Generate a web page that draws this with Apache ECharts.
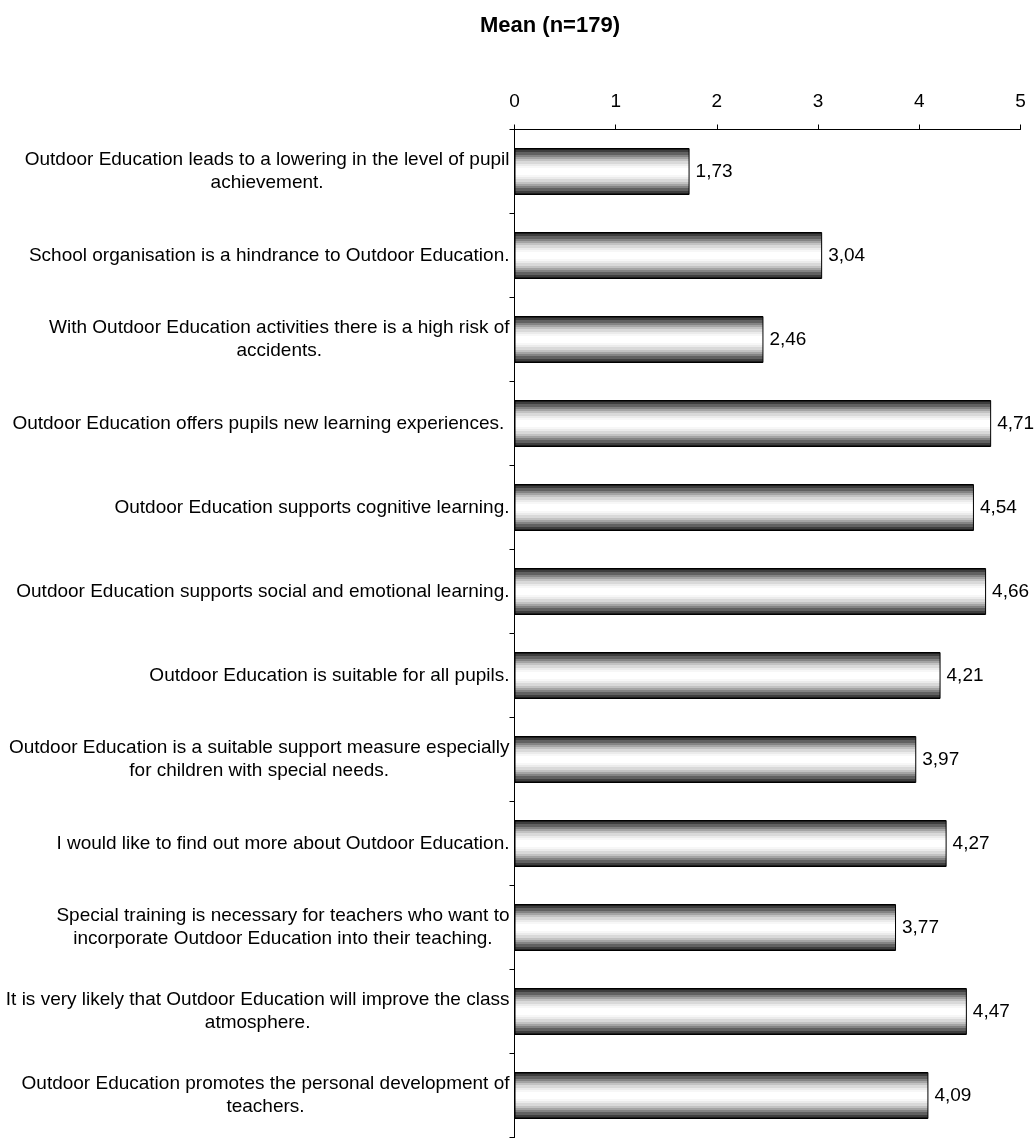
<!DOCTYPE html>
<html>
<head>
<meta charset="utf-8">
<script src="https://cdn.jsdelivr.net/npm/echarts@6/dist/echarts.min.js"></script>
<style>
html,body{margin:0;padding:0;background:#fff;}
#chart{width:1035px;height:1138px;}
</style>
</head>
<body>
<div id="chart"></div>
<script>
const categories = [
  "Outdoor Education leads to a lowering in the level of pupil\nachievement.",
  "School organisation is a hindrance to Outdoor Education.",
  "With Outdoor Education activities there is a high risk of\naccidents.",
  "Outdoor Education offers pupils new learning experiences. ",
  "Outdoor Education supports cognitive learning.",
  "Outdoor Education supports social and emotional learning.",
  "Outdoor Education is suitable for all pupils.",
  "Outdoor Education is a suitable support measure especially\nfor children with special needs.",
  "I would like to find out more about Outdoor Education.",
  "Special training is necessary for teachers who want to\nincorporate Outdoor Education into their teaching.",
  "It is very likely that Outdoor Education will improve the class\natmosphere.",
  "Outdoor Education promotes the personal development of\nteachers."
];
const meanValues = [1.73, 3.04, 2.46, 4.71, 4.54, 4.66, 4.21, 3.97, 4.27, 3.77, 4.47, 4.09];
const titleText = "Mean (n=179)";

const FONT = "'Liberation Sans', Arial, sans-serif";
const FS = 19;

const stripes = ['#1e1e1e','#3e3e3e','#616161','#848484','#a4a4a4','#c2c2c2','#d9d9d9','#ebebeb','#f7f7f7','#ffffff','#ffffff'];
function stripeGradient() {
  const seq = stripes.concat(stripes.slice(0, -1).reverse());
  const n = seq.length;
  const stops = [];
  for (let i = 0; i < n; i++) {
    stops.push({offset: i / n, color: seq[i]});
    stops.push({offset: (i + 1) / n, color: seq[i]});
  }
  return new echarts.graphic.LinearGradient(0, 0, 0, 1, stops);
}

const chart = echarts.init(document.getElementById('chart'), null, {renderer: 'canvas'});
chart.setOption({
  animation: false,
  backgroundColor: '#ffffff',
  title: {
    text: titleText,
    left: 545,
    textAlign: 'center',
    top: 10,
    textStyle: {fontFamily: FONT, fontSize: 22, fontWeight: 'bold', color: '#000'}
  },
  grid: {left: 514.5, right: 14.5, top: 129.5, bottom: 0.5, containLabel: false},
  xAxis: {
    type: 'value',
    position: 'top',
    min: 0, max: 5, interval: 1,
    axisLine: {show: true, lineStyle: {color: '#000', width: 1}},
    axisTick: {show: true, length: 5, lineStyle: {color: '#000'}},
    splitLine: {show: false},
    axisLabel: {
      fontFamily: FONT, fontSize: FS, color: '#000', margin: 18,
      formatter: v => String(v)
    }
  },
  yAxis: {
    type: 'category',
    inverse: true,
    data: categories,
    axisLine: {show: true, lineStyle: {color: '#000', width: 1}},
    axisTick: {show: true, length: 5, lineStyle: {color: '#000'}},
    axisLabel: {
      fontFamily: FONT, fontSize: FS, color: '#000', margin: 5,
      lineHeight: 23,
      formatter: v => v.split('\n').map(l => '{c|' + l + '}').join('\n'),
      rich: {c: {align: 'center', fontFamily: FONT, fontSize: FS, color: '#000', lineHeight: 23}}
    }
  },
  series: [{
    type: 'bar',
    data: meanValues,
    barWidth: 47,
    itemStyle: {color: stripeGradient(), borderColor: '#000', borderWidth: 1},
    label: {
      show: true, position: 'right', distance: 6,
      fontFamily: FONT, fontSize: FS, color: '#000',
      formatter: p => p.value.toFixed(2).replace('.', ',')
    }
  }]
});
</script>
</body>
</html>
